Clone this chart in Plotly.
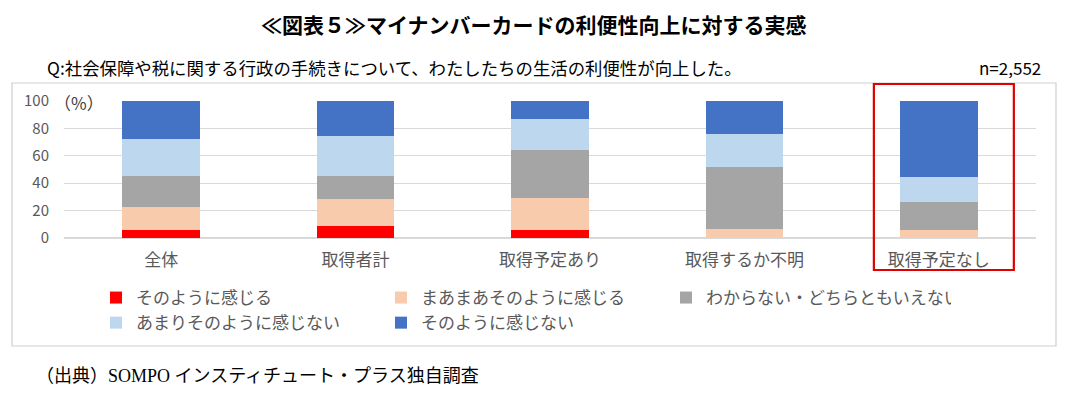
import plotly.graph_objects as go

categories = ["全体", "取得者計", "取得予定あり", "取得するか不明", "取得予定なし"]
series_names = ["そのように感じる", "まあまあそのように感じる", "わからない・どちらともいえない",
                "あまりそのように感じない", "そのように感じない"]
v_feel = [6.0, 8.8, 5.9, 0.3, 0.2]
v_somewhat = [16.5, 19.6, 23.2, 6.3, 5.7]
v_unknown = [22.5, 16.6, 35.5, 45.0, 20.7]
v_notmuch = [27.4, 29.8, 22.5, 24.2, 17.6]
v_not = [27.6, 25.2, 12.9, 24.2, 55.8]
colors = ["#ff0000", "#f8cbad", "#a5a5a5", "#bdd7ee", "#4472c4"]
y_ticks = [0, 20, 40, 60, 80, 100]

series_values = [v_feel, v_somewhat, v_unknown, v_notmuch, v_not]

# page has an 8px body margin, so the figure is 16px smaller than the window
OFF = 8
W, H = 1053, 377
L, R, T, B = 56, 25, 93, 147
PW, PH = W - L - R, H - T - B
FONT = "Noto Sans CJK JP, sans-serif"


def px(page_x):
    return (page_x - OFF - L) / PW


def py(page_y):
    return (H - B - (page_y - OFF)) / PH


fig = go.Figure()
for name, vals, col in zip(series_names, series_values, colors):
    fig.add_trace(go.Bar(x=categories, y=vals, name=name, marker=dict(color=col, line=dict(width=0))))

fig.update_layout(
    barmode="stack",
    bargap=0.6,
    width=W, height=H,
    margin=dict(l=L, r=R, t=T, b=B, autoexpand=False),
    paper_bgcolor="white", plot_bgcolor="white",
    font=dict(family=FONT, color="#595959", size=15),
    showlegend=True,
    legend=dict(
        orientation="h", x=px(96), y=py(280), xanchor="left", yanchor="top",
        entrywidth=240, entrywidthmode="pixels",
        font=dict(size=17, color="#595959", family=FONT),
        traceorder="normal", itemwidth=30, tracegroupgap=0,
        bgcolor="rgba(0,0,0,0)",
    ),
    xaxis=dict(showgrid=False, showline=False, ticks="", automargin=False, ticklabelstandoff=10,
               tickfont=dict(size=17, color="#595959")),
    yaxis=dict(range=[0, 100], tickvals=y_ticks, showgrid=True, gridcolor="#d9d9d9", gridwidth=1,
               zeroline=True, zerolinecolor="#d9d9d9", showline=False, ticks="", automargin=False,
               tickfont=dict(size=15, color="#595959"), ticklabelstandoff=14),
)

# outer frame of the chart area
fig.add_shape(type="rect", xref="paper", yref="paper",
              x0=px(12), x1=px(1056), y0=py(346), y1=py(83),
              line=dict(color="#d0d0d0", width=1.2), fillcolor="rgba(0,0,0,0)", layer="below")

# red highlight box around last category
fig.add_shape(type="rect", xref="x", yref="paper",
              x0=3.666, x1=4.386, y0=py(270), y1=py(84),
              line=dict(color="#e00000", width=2.2), fillcolor="rgba(0,0,0,0)")

fig.add_annotation(text="<b>≪図表５≫マイナンバーカードの利便性向上に対する実感</b>", xref="paper", yref="paper",
                   x=px(534), y=py(OFF), showarrow=False, borderpad=0,
                   font=dict(size=21, color="#000000", family=FONT), xanchor="center", yanchor="top")
fig.add_annotation(text="Q:社会保障や税に関する行政の手続きについて、わたしたちの生活の利便性が向上した。",
                   xref="paper", yref="paper", x=px(45), y=py(68),
                   showarrow=False, font=dict(size=17.4, color="#000000", family=FONT),
                   xanchor="left", yanchor="middle")
fig.add_annotation(text="n=2,552", xref="paper", yref="paper", x=px(1043),
                   y=py(68), showarrow=False,
                   font=dict(size=17, color="#000000", family=FONT), xanchor="right", yanchor="middle")
fig.add_annotation(text="（%）", xref="paper", yref="paper", x=px(52), y=py(102),
                   showarrow=False, font=dict(size=17, color="#404040", family=FONT),
                   xanchor="left", yanchor="middle")
fig.add_annotation(text="（出典）SOMPO インスティチュート・プラス独自調査", xref="paper", yref="paper",
                   x=px(34), y=py(376), showarrow=False,
                   font=dict(size=18, color="#000000", family="Liberation Serif, Noto Sans CJK JP, serif"),
                   xanchor="left", yanchor="middle")

fig.write_html("out.html")
